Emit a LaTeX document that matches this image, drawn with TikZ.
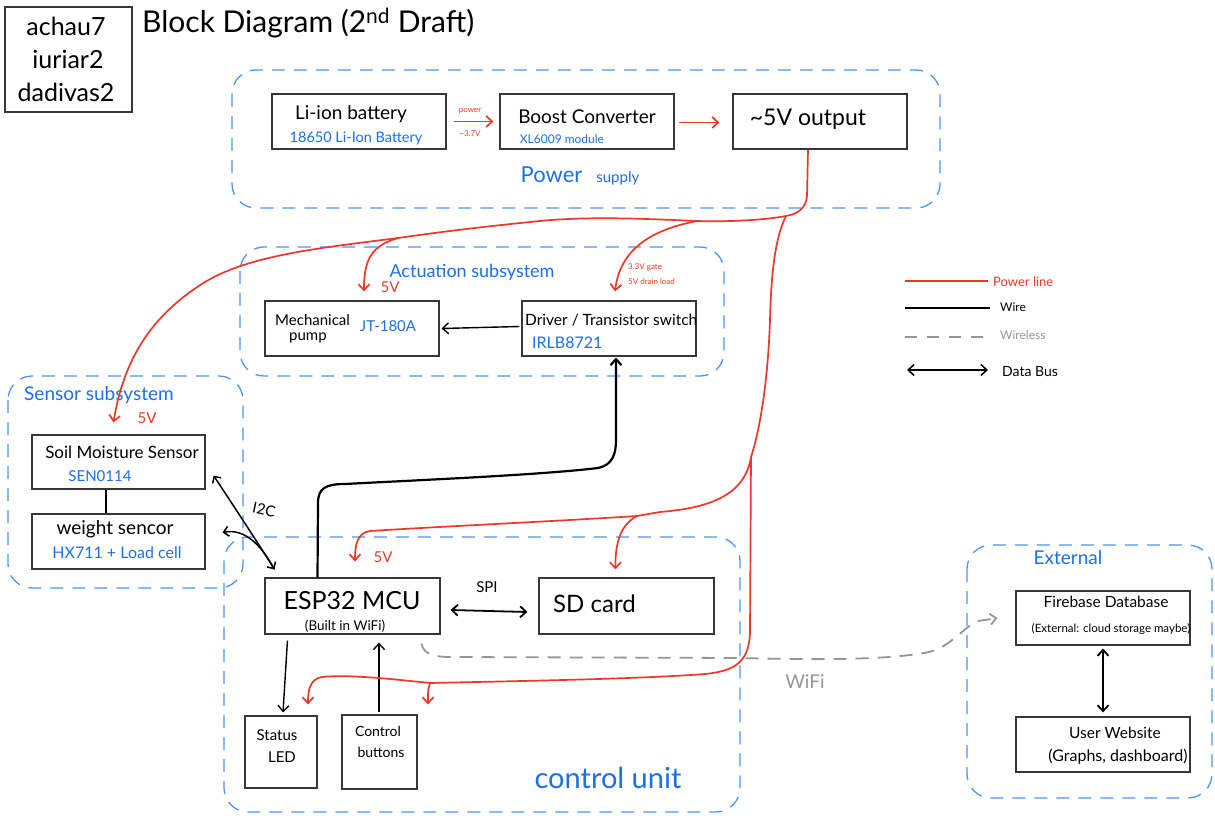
\documentclass[tikz,border=0pt]{standalone}
\usepackage{fontspec}
\setmainfont{Lato}
\usetikzlibrary{arrows.meta}
\definecolor{inkred}{RGB}{236,56,40}
\definecolor{inkblue}{RGB}{28,112,232}
\definecolor{zoneblue}{RGB}{74,150,240}
\definecolor{inkgrey}{RGB}{150,150,150}
\definecolor{boxline}{RGB}{55,55,55}
\newcommand\txtsize[1]{\fontsize{#1}{#1}\selectfont}
\tikzset{
  block/.style={draw=boxline, line width=1.1pt, minimum width=174pt, minimum height=55pt, inner sep=0pt},
  zone/.style={draw=zoneblue, line width=1.3pt, dash pattern=on 13pt off 9pt, rounded corners=24pt},
  hand/.style={inner sep=0pt, text=black},
  bluenote/.style={inner sep=0pt, text=inkblue},
  rednote/.style={inner sep=0pt, text=inkred},
  pointy/.style={-{Straight Barb[length=6pt,width=11pt]}},
  powerline/.style={draw=inkred, line width=1.7pt},
  wireline/.style={draw=black, line width=1.4pt},
  busline/.style={draw=black, line width=1.8pt, {Straight Barb[length=6pt,width=11pt]}-{Straight Barb[length=6pt,width=11pt]}},
  wireless/.style={draw=inkgrey, line width=1.8pt, dash pattern=on 13pt off 9pt},
}
\begin{document}
\begin{tikzpicture}[x=1pt,y=-1pt]
\useasboundingbox[fill=white] (0,0) rectangle (1215,834);

% authors and title
\node[block, minimum width=127pt, minimum height=105pt] (names) at (68.5,59.5) {};
\node[hand, font=\txtsize{25}] (n1) at (66,26) {achau7};
\node[hand, font=\txtsize{25}] (n2) at (68,59) {iuriar2};
\node[hand, font=\txtsize{25}] (n3) at (66,92) {dadivas2};
\node[hand, font=\txtsize{30}, anchor=west] (title) at (142,23) {Block Diagram (2\textsuperscript{nd} Draft)};

% subsystem zones
\draw[zone] (232,70) rectangle (940,208);
\draw[zone] (240,247) rectangle (724,376);
\draw[zone] (8,376) rectangle (243,588);
\draw[zone] (224,537) rectangle (740,812);
\draw[zone] (967,545) rectangle (1212,798);

% power supply
\node[block] (bat) at (359,121.5) {};
\node[hand, font=\txtsize{19}] (batT) at (351,114) {Li-ion battery};
\node[bluenote, font=\txtsize{14.5}] (batS) at (356,138) {18650 Li-Ion Battery};
\node[block] (boost) at (587,121.5) {};
\node[hand, font=\txtsize{19}] (boostT) at (587,117) {Boost Converter};
\node[bluenote, font=\txtsize{12}] (boostS) at (562,139) {XL6009 module};
\node[block] (out5) at (820,121.5) {};
\node[hand, font=\txtsize{23}] (out5T) at (808,119) {\textasciitilde5V output};
\draw[powerline, pointy] ([shift={(7,0)}]bat.east) -- ([shift={(-6,0)}]boost.west);
\node[rednote, font=\txtsize{8}] (pwrA) at (470,111) {power};
\node[rednote, font=\txtsize{8}] (pwrB) at (470,134) {\textasciitilde3.7V};
\draw[powerline, pointy] ([shift={(4,1)}]boost.east) -- ([shift={(-13,1)}]out5.west);
\node[bluenote] (psL) at (580,176) {{\txtsize{22}Power}\hspace{14pt}{\txtsize{15}supply}};

% actuation subsystem
\node[block] (pump) at (352,328.5) {};
\node[hand, font=\txtsize{15}, anchor=west] (pumpT1) at (275,320) {Mechanical};
\node[hand, font=\txtsize{15}, anchor=west] (pumpT2) at (289,338) {pump};
\node[bluenote, font=\txtsize{15}] (pumpS) at (388,326) {JT-180A};
\node[block] (drv) at (609,328.5) {};
\node[hand, font=\txtsize{15.5}, anchor=west] (drvT) at (525,320) {Driver / Transistor switch};
\node[bluenote, font=\txtsize{16}, anchor=west] (drvS) at (532,343) {IRLB8721};
\draw[wireline, pointy] ([shift={(-2,-2)}]drv.west) -- ([shift={(2,0)}]pump.east);
\node[bluenote, font=\txtsize{18}] (actL) at (472,272) {Actuation subsystem};

% sensor subsystem
\node[block, minimum width=173pt, minimum height=54pt] (soil) at (118.5,462) {};
\node[hand, font=\txtsize{17}] (soilT) at (122,452) {Soil Moisture Sensor};
\node[bluenote, font=\txtsize{15}] (soilS) at (100,476) {SEN0114};
\node[block, minimum width=173pt] (wgt) at (118.5,541.5) {};
\node[hand, font=\txtsize{19}] (wgtT) at (115,529) {weight sencor};
\node[bluenote, font=\txtsize{16}] (wgtS) at (117,553) {HX711 + Load cell};
\draw[wireline, line width=1.1pt] ([xshift=-12.5pt]soil.south) -- ([xshift=-12.5pt]wgt.north);
\node[bluenote, font=\txtsize{19}, anchor=west] (sensL) at (24,395) {Sensor subsystem};

% control unit
\node[block, minimum width=175pt, minimum height=56pt] (esp) at (352.5,606) {};
\node[hand, font=\txtsize{25}] (espT) at (352,601) {ESP32 MCU};
\node[hand, font=\txtsize{13.5}] (espS) at (345,626) {(Built in WiFi)};
\node[block, minimum width=175pt, minimum height=56pt] (sd) at (626.5,606) {};
\node[hand, font=\txtsize{24}, anchor=west] (sdT) at (553,604) {SD card};
\node[block, minimum width=72pt, minimum height=72pt] (led) at (281,752) {};
\node[hand, font=\txtsize{15}] (ledT1) at (277,735) {Status};
\node[hand, font=\txtsize{15}] (ledT2) at (282,757) {LED};
\node[block, minimum width=75pt, minimum height=74pt] (btn) at (379.5,752) {};
\node[hand, font=\txtsize{14}] (btnT1) at (378,731) {Control};
\node[hand, font=\txtsize{14}] (btnT2) at (381,752) {buttons};
\node[bluenote, font=\txtsize{29}] (ctlL) at (608,778) {control unit};

\draw[busline] ([shift={(10,4)}]esp.east) -- ([shift={(-11,6)}]sd.west);
\node[hand, font=\txtsize{15}] (spiL) at (487,587) {SPI};
\draw[wireline, pointy] ([shift={(23,6)}]esp.south west) -- ([shift={(2,-3)}]led.north);
\draw[wireline, pointy] ([shift={(-0.5,-2)}]btn.north) -- ([shift={(26.5,8)}]esp.south);

% I2C bus to the sensors
\coordinate (espI2C) at ([shift={(10,-8)}]esp.north west);
\draw[wireline, line width=1.5pt, {Straight Barb[length=5pt,width=10pt]}-{Straight Barb[length=5pt,width=10pt]}]
  ([shift={(8,-14)}]soil.south east) .. controls (235,508) and (256,540) .. (espI2C);
\draw[wireline, line width=1.5pt, {Straight Barb[length=5pt,width=10pt]}-]
  ([shift={(17,-9)}]wgt.east) .. controls (245,528) and (262,546) .. (espI2C);
\node[hand, font=\txtsize{15}, rotate=-12] (i2cL) at (264,510) {I2C};

% control signal from the MCU to the driver
\draw[wireline, line width=2.2pt, pointy] ([xshift=-35pt]esp.north) -- (318,503)
  .. controls (318,488) and (326,484) .. (345,484)
  .. controls (420,480) and (540,475) .. (598,468)
  .. controls (612,465) and (616,455) .. (616,440) -- ([shift={(7,1)}]drv.south);

% external services
\node[block, minimum height=54pt] (fire) at (1103,618) {};
\node[hand, font=\txtsize{15.5}] (fireT) at (1106,602) {Firebase Database};
\node[hand, font=\txtsize{11.5}] (fireS) at (1111,629) {(External: cloud storage maybe)};
\node[block] (web) at (1103,744.5) {};
\node[hand, font=\txtsize{15.5}] (webT) at (1115,733) {User Website};
\node[hand, font=\txtsize{16}] (webS) at (1118,757) {(Graphs, dashboard)};
\draw[busline] ([shift={(0,3)}]fire.south) -- ([shift={(0,-4)}]web.north);
\node[bluenote, font=\txtsize{19}] (extL) at (1068,558) {External};

% WiFi link
\draw[wireless, -{Straight Barb[length=6pt,width=11pt]}] ([shift={(-19,9)}]esp.south east)
  .. controls (423,652) and (430,657) .. (450,657) -- (740,658)
  .. controls (820,660) and (890,660) .. (929,652)
  .. controls (952,646) and (962,628) .. (978,621) -- ([xshift=-18pt]fire.west);
\node[text=inkgrey, inner sep=0pt, font=\txtsize{19}] (wifiL) at (805,682) {WiFi};

% power distribution
\coordinate (hubA) at (786,216);
\coordinate (hubB) at (697,221);
\coordinate (hubC) at (398,238);
\coordinate (hubD) at (751,457);
\coordinate (hubE) at (637,516);
\coordinate (hubF) at (430,683);
\draw[powerline] ([xshift=-12pt]out5.south) -- (807,196) .. controls (806,208) and (798,214) .. (hubA);
\draw[powerline, pointy] (hubA) .. controls (765,220) and (730,222) .. (hubB)
  .. controls (650,219) and (590,216) .. (540,221)
  .. controls (480,227) and (440,232) .. (hubC)
  .. controls (320,248) and (250,255) .. (205,282)
  .. controls (160,310) and (125,350) .. ([shift={(-5,-12)}]soil.north);
\draw[powerline, pointy] (hubB) .. controls (650,230) and (620,250) .. ([shift={(6,-9)}]drv.north);
\draw[powerline, pointy] (hubC) .. controls (372,246) and (364,258) .. ([shift={(12,-9)}]pump.north);
\node[rednote, font=\txtsize{15}] (v5a) at (390,287) {5V};
\node[rednote, font=\txtsize{8}, anchor=west] (gateL) at (628,267) {3.3V gate};
\node[rednote, font=\txtsize{8}, anchor=west] (drainL) at (628,282) {5V drain load};
\node[rednote, font=\txtsize{15}] (v5b) at (147,418) {5V};
\draw[powerline] (hubA) .. controls (774,240) and (771,280) .. (770,320) .. controls (768,380) and (760,430) .. (hubD);
\draw[powerline, pointy] (hubD) .. controls (745,495) and (710,508) .. (660,512) -- (hubE)
  .. controls (560,521) and (450,526) .. (370,531)
  .. controls (357,533) and (355,545) .. ([shift={(2.5,-16)}]esp.north);
\draw[powerline, pointy] (hubE) .. controls (622,524) and (615,540) .. ([shift={(-11,-8)}]sd.north);
\node[rednote, font=\txtsize{15}] (v5c) at (383,557) {5V};
\draw[powerline, pointy] (hubD) -- (750,630) .. controls (750,662) and (735,671) .. (705,674)
  .. controls (640,679) and (520,681) .. (hubF)
  .. controls (400,680) and (350,674) .. (322,677)
  .. controls (310,679) and (308,690) .. ([shift={(27,-11)}]led.north);
\draw[powerline, pointy] (hubF) .. controls (428,690) .. ([shift={(48.5,-10)}]btn.north);

% legend
\coordinate (lgA1) at (905,281); \coordinate (lgA2) at (988,281);
\coordinate (lgB1) at (905,308); \coordinate (lgB2) at (990,308);
\coordinate (lgC1) at (905,337); \coordinate (lgC2) at (988,337);
\coordinate (lgD1) at (907,370); \coordinate (lgD2) at (988,370);
\draw[powerline, line width=1.5pt] (lgA1) -- (lgA2);
\draw[wireline, line width=1.5pt] (lgB1) -- (lgB2);
\draw[wireless, line width=1.5pt, dash pattern=on 12pt off 10pt] (lgC1) -- (lgC2);
\draw[busline, line width=1.5pt] (lgD1) -- (lgD2);
\node[rednote, font=\txtsize{13}, anchor=west] (lgAT) at (993,282) {Power line};
\node[hand, font=\txtsize{12}, anchor=west] (lgBT) at (1000,307) {Wire};
\node[text=inkgrey, inner sep=0pt, font=\txtsize{12}, anchor=west] (lgCT) at (1000,335) {Wireless};
\node[hand, font=\txtsize{14}, anchor=west] (lgDT) at (1002,372) {Data Bus};
\end{tikzpicture}
\end{document}
